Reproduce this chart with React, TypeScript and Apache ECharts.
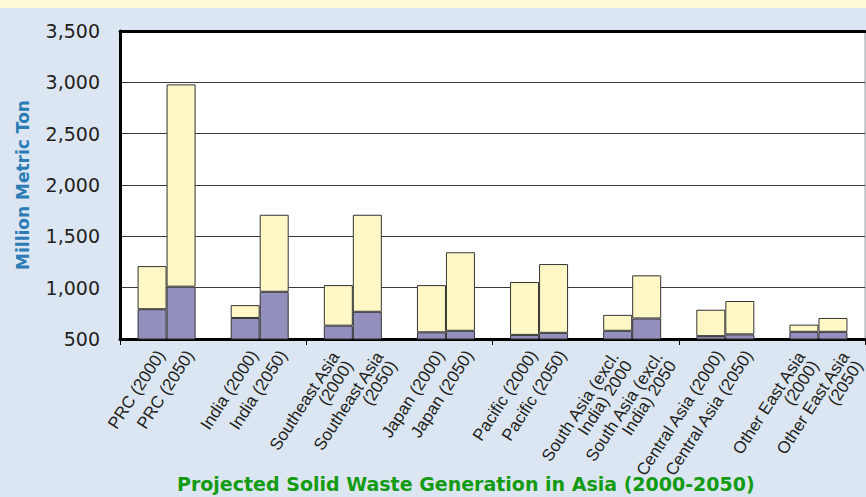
import React, { useEffect, useRef } from "react";
import * as echarts from "echarts";

const regions = ["PRC", "India", "Southeast Asia", "Japan", "Pacific", "South Asia (excl. India)", "Central Asia", "Other East Asia"];
const barLabels = [
  "PRC (2000)", "PRC (2050)",
  "India (2000)", "India (2050)",
  "Southeast Asia\n(2000)", "Southeast Asia\n(2050)",
  "Japan (2000)", "Japan (2050)",
  "Pacific (2000)", "Pacific (2050)",
  "South Asia (excl.\nIndia) 2000", "South Asia (excl.\nIndia) 2050",
  "Central Asia (2000)", "Central Asia (2050)",
  "Other East Asia\n(2000)", "Other East Asia\n(2050)",
];
// lower (purple) segment and total height of each bar, million metric tons
const lower2000 = [790, 705, 630, 565, 540, 580, 528, 570];
const total2000 = [1210, 830, 1025, 1025, 1055, 735, 785, 640];
const lower2050 = [1010, 960, 765, 580, 560, 700, 545, 570];
const total2050 = [2980, 1710, 1710, 1345, 1230, 1120, 870, 705];
const yTicks = [500, 1000, 1500, 2000, 2500, 3000, 3500];

const TITLE = "Projected Solid Waste Generation in Asia (2000-2050)";
const Y_NAME = "Million Metric Ton";

const BAR_W = 29;
const FONT = "DejaVu Sans";
const LABEL_FONT = "Liberation Sans";
const YELLOW = "#FFF8C6";
const PURPLE = "#9490BE";
const EDGE = "#333333";
const ROT = (57 * Math.PI) / 180;

export default function App() {
  const ref = useRef<HTMLDivElement>(null);
  useEffect(() => {
    if (!ref.current) return;
    const chart = echarts.init(ref.current, null, { renderer: "svg" });
    const upper2000 = total2000.map((t, i) => t - lower2000[i]);
    const upper2050 = total2050.map((t, i) => t - lower2050[i]);
    const barBase = {
      type: "bar",
      barWidth: BAR_W,
      barGap: "0%",
      xAxisIndex: 0,
      yAxisIndex: 0,
      itemStyle: { borderColor: EDGE, borderWidth: 1 },
    };
    chart.setOption({
      animation: false,
      backgroundColor: "#DCE6F2",
      textStyle: { fontFamily: FONT },
      graphic: [
        { type: "rect", left: 0, top: 0, shape: { width: 866, height: 8 }, style: { fill: "#FEFBD8" }, silent: true },
      ],
      title: {
        text: TITLE,
        left: 177,
        top: 474,
        padding: 0,
        textStyle: { fontFamily: FONT, fontSize: 19, fontWeight: "bold", color: "#139B13" },
      },
      grid: {
        left: 120,
        right: 1,
        top: 31,
        bottom: 158,
        show: true,
        backgroundColor: "#FFFFFF",
        borderColor: "#A0A0A0",
        borderWidth: 1,
      },
      xAxis: [
        {
          type: "category",
          data: regions,
          position: "bottom",
          axisLine: { show: true, lineStyle: { color: "#000", width: 3 } },
          axisTick: { show: true, length: 6, lineStyle: { color: "#000", width: 1 } },
          axisLabel: { show: false },
          splitLine: { show: false },
        },
        {
          type: "category",
          data: regions,
          position: "top",
          axisLine: { show: true, lineStyle: { color: "#000", width: 3 } },
          axisTick: { show: false },
          axisLabel: { show: false },
        },
      ],
      yAxis: {
        type: "value",
        min: yTicks[0],
        max: yTicks[yTicks.length - 1],
        interval: 500,
        name: Y_NAME,
        nameLocation: "middle",
        nameGap: 89,
        nameTextStyle: { fontFamily: FONT, fontSize: 17, fontWeight: "bold", color: "#2B7CB5" },
        axisLine: { show: true, lineStyle: { color: "#000", width: 3 } },
        axisTick: { show: false },
        axisLabel: {
          margin: 20,
          fontSize: 19,
          color: "#231F20",
          fontFamily: FONT,
          formatter: (v: number) => v.toLocaleString("en-US"),
        },
        splitLine: { show: true, lineStyle: { color: "#3A3A3A", width: 1 } },
      },
      series: [
        { ...barBase, name: "2000 lower", stack: "y2000", data: lower2000, itemStyle: { ...barBase.itemStyle, color: PURPLE } },
        { ...barBase, name: "2000 upper", stack: "y2000", data: upper2000, itemStyle: { ...barBase.itemStyle, color: YELLOW } },
        { ...barBase, name: "2050 lower", stack: "y2050", data: lower2050, itemStyle: { ...barBase.itemStyle, color: PURPLE } },
        { ...barBase, name: "2050 upper", stack: "y2050", data: upper2050, itemStyle: { ...barBase.itemStyle, color: YELLOW } },
        {
          type: "custom",
          name: "labels",
          xAxisIndex: 0,
          yAxisIndex: 0,
          silent: true,
          clip: false,
          z: 10,
          data: barLabels.map((_, i) => [Math.floor(i / 2), i % 2]),
          renderItem: (params: any, api: any) => {
            const g = api.value(0);
            const k = api.value(1);
            const base = api.coord([g, yTicks[0]]);
            const text = barLabels[params.dataIndex];
            const multi = text.indexOf("\n") >= 0;
            let dx = (k === 0 ? -1 : 1) * (BAR_W / 2) + 9;
            let dy = 13;
            if (multi) {
              dx += k === 0 ? -5 : 10;
              dy = 19;
            }
            return {
              type: "text",
              x: base[0] + dx,
              y: base[1] + dy,
              rotation: ROT,
              style: {
                text,
                align: "right",
                verticalAlign: "middle",
                fontSize: 17,
                fontFamily: LABEL_FONT,
                lineHeight: 16,
                fill: "#231F20",
              },
            };
          },
        },
      ],
    } as any);
    return () => chart.dispose();
  }, []);
  return (
    <div
      ref={ref}
      style={{ position: "absolute", left: 0, top: 0, width: 866, height: 497 }}
    />
  );
}
